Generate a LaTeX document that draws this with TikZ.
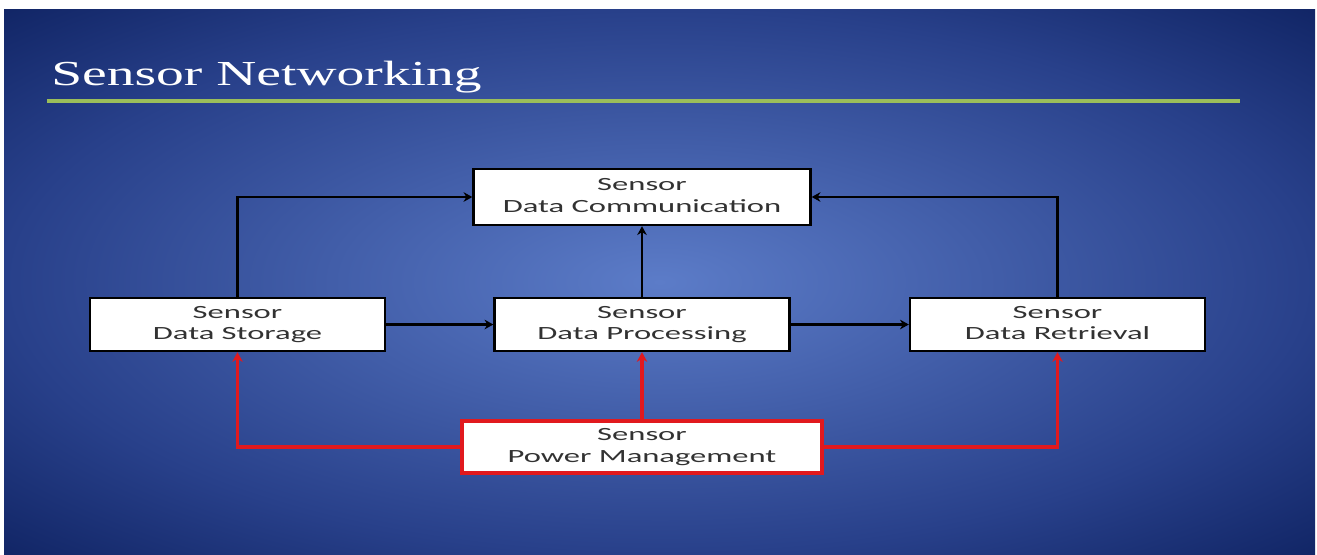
\documentclass[tikz,border=0pt]{standalone}
\usepackage{fontspec}
\setmainfont{Carlito}
\newfontfamily\titlefont{Liberation Serif}
\usepackage{graphicx}
\usetikzlibrary{arrows.meta}
\definecolor{slidein}{RGB}{92,124,200}
\definecolor{slidemid}{RGB}{40,64,138}
\definecolor{slideout}{RGB}{16,36,100}
\definecolor{rulegreen}{RGB}{155,190,90}
\definecolor{boxtext}{RGB}{50,50,50}
\definecolor{pred}{RGB}{225,25,30}
\pgfdeclareradialshading{slidebg}{\pgfpoint{0bp}{0bp}}{%
  color(0bp)=(slidein); color(25bp)=(slidemid);
  color(36bp)=(slideout); color(50bp)=(slideout)}
\newcommand{\wide}[1]{\scalebox{1.75}[1]{\strut#1}}
\newcommand{\blocklabel}[2]{\wide{#1}\\\wide{#2}}

\begin{document}
\begin{tikzpicture}[x=0.02cm,y=-0.02cm,>=Stealth,
  block/.style={draw=black,line width=1.4pt,fill=white,text=boxtext,
    align=center,inner sep=0pt,minimum width=5.9cm,minimum height=1.06cm,
    font=\fontsize{10.6}{12.2}\selectfont},
  link/.style={black,line width=1.4pt,-{Stealth[length=5pt,width=5.5pt]}},
  powerlink/.style={pred,line width=1.8pt,-{Stealth[length=5.5pt,width=6pt]}}]

% =============================== slide ================================
\useasboundingbox (0,0) rectangle (1317,554);
\fill[white] (0,0) rectangle (1317,554);
\shade[shading=slidebg] (4,10) rectangle (1315,554);

% title and rule
\node[anchor=base west,inner sep=0pt,text=white,
  font=\titlefont\fontsize{20}{22}\selectfont] (title) at (51,86)
  {\scalebox{1.58}[1]{Sensor Networking}};
\draw[rulegreen,line width=1.8pt] (47,101) -- (1240,101);

% =============================== nodes ================================
\node[block,minimum width=6.74cm,minimum height=1.12cm] (comm) at (642,197)
  {\blocklabel{Sensor}{Data Communication}};
\node[block] (store) at (237.5,324.5) {\blocklabel{Sensor}{Data Storage}};
\node[block] (proc)  at (642,324.5)   {\blocklabel{Sensor}{Data Processing}};
\node[block] (retr)  at (1057.5,324.5) {\blocklabel{Sensor}{Data Retrieval}};
\node[block,draw=pred,line width=2pt,minimum width=7.2cm,minimum height=1.04cm]
  (power) at (642,447) {\blocklabel{Sensor}{Power Management}};

% ============================= data flow ==============================
\draw[link] (store.north) |- (comm.west);
\draw[link] (retr.north) |- (comm.east);
\draw[link] (proc.north) -- (comm.south);
\draw[link] (store.east) -- (proc.west);
\draw[link] (proc.east) -- (retr.west);

% ============================ power supply ============================
\draw[powerlink] (power.north) -- (proc.south);
\draw[powerlink] (power.west) -| (store.south);
\draw[powerlink] (power.east) -| (retr.south);

\end{tikzpicture}
\end{document}
